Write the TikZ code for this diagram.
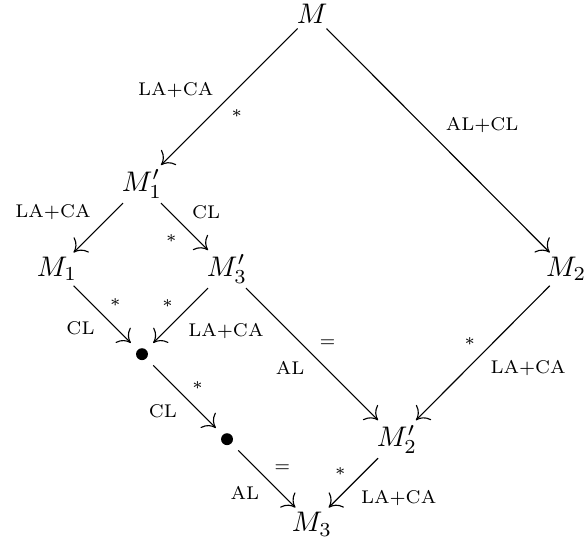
\documentclass[tikz,border=0pt]{standalone}
\usetikzlibrary{arrows.meta}
\tikzset{
  obj/.style={inner sep=1.5pt},
  dot/.style={circle,fill=black,inner sep=0pt,minimum size=4.2pt,outer sep=3.5pt},
  lbl/.style={font=\fontsize{6.5}{7.5}\selectfont,inner sep=2.5pt},
  arr/.style={-{To[length=4pt,width=7.5pt]},line width=.4pt},
}
\begin{document}
\begin{tikzpicture}[x=30pt,y=30pt]
  \useasboundingbox (-0.67,0.165) rectangle (6.21,-6.21);
  % ---------------- objects
  \node[obj] (m)   at (3,0)  {$M$};
  \node[obj] (m1p) at (1,-2) {$M_1'$};
  \node[obj] (m1)  at (0,-3) {$M_1$};
  \node[obj] (m3p) at (2,-3) {$M_3'$};
  \node[obj] (m2)  at (5.99,-3) {$M_2$};
  \node[dot] (d1)  at (1,-4) {};
  \node[dot] (d2)  at (2,-5) {};
  \node[obj] (m2p) at (4,-5) {$M_2'$};
  \node[obj] (m3)  at (3,-6) {$M_3$};
  % ---------------- arrows
  \draw[arr] (m) -- node[lbl,pos=.56,above left] {LA+CA} node[lbl,pos=.54,below right] {$*$} (m1p);
  \draw[arr] (m) -- node[lbl,midway,above right] {AL+CL} (m2);
  \draw[arr] (m1p) -- node[lbl,midway,above left] {LA+CA} (m1);
  \draw[arr] (m1p) -- node[lbl,midway,above right] {CL} node[lbl,midway,below left] {$*$} (m3p);
  \draw[arr] (m1) -- node[lbl,midway,above right] {$*$} node[lbl,midway,below left] {CL} (d1);
  \draw[arr] (m3p) -- node[lbl,midway,above left] {$*$} node[lbl,midway,below right] {LA+CA} (d1);
  \draw[arr] (m3p) -- node[lbl,midway,above right] {$=$} node[lbl,midway,below left] {AL} (m2p);
  \draw[arr] (m2) -- node[lbl,midway,above left] {$*$} node[lbl,midway,below right] {LA+CA} (m2p);
  \draw[arr] (d1) -- node[lbl,midway,above right] {$*$} node[lbl,midway,below left] {CL} (d2);
  \draw[arr] (d2) -- node[lbl,midway,above right] {$=$} node[lbl,midway,below left] {AL} (m3);
  \draw[arr] (m2p) -- node[lbl,midway,above left] {$*$} node[lbl,midway,below right] {LA+CA} (m3);
\end{tikzpicture}
\end{document}
